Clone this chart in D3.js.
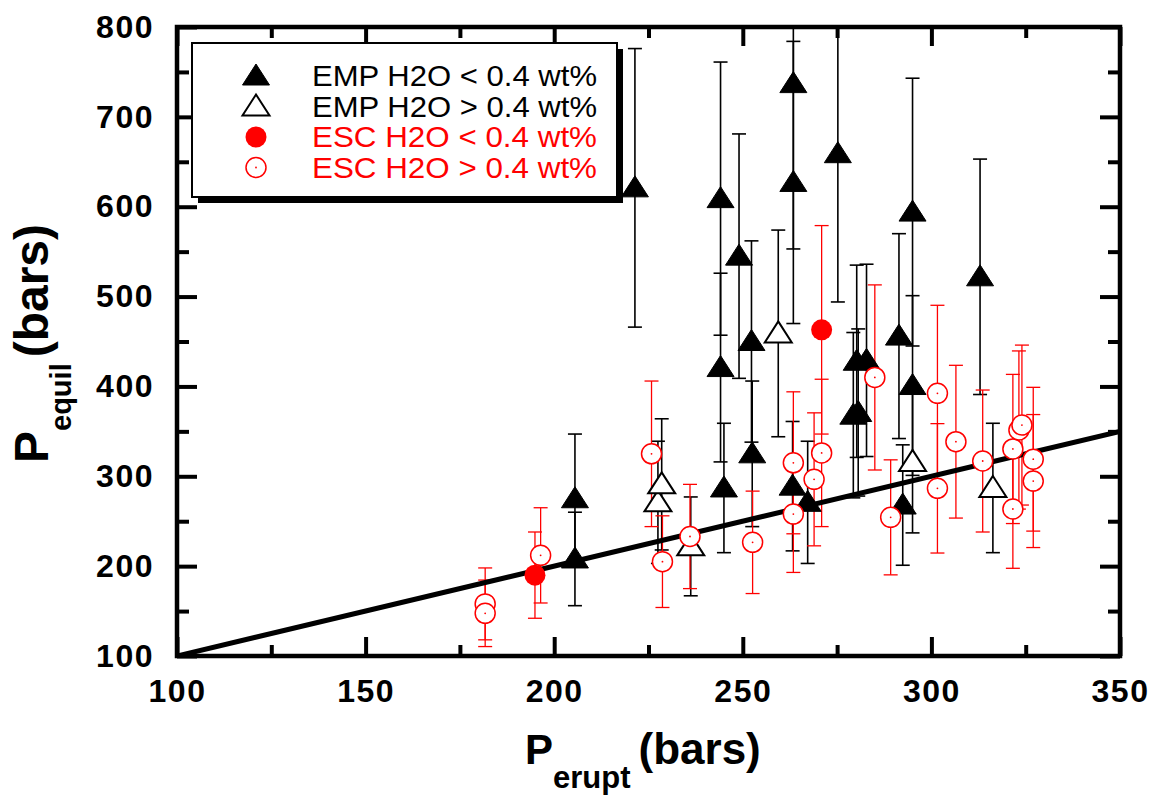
<!DOCTYPE html>
<html>
<head>
<meta charset="utf-8">
<script src="https://cdn.jsdelivr.net/npm/d3@7"></script>
<style>
  html, body { margin: 0; padding: 0; background: #fff; }
  svg { display: block; font-family: "Liberation Sans", Arial, sans-serif; }
</style>
</head>
<body>
<div id="chart"></div>
<script>
// EMP H2O < 0.4 wt% (filled triangles)
const empLowX = [205.5, 205.5, 221.4, 244.1, 244.1, 245.0, 249.0, 252.3, 252.5, 263.4, 263.4, 263.2, 267.2, 275.2, 280.2, 282.8, 279.3, 280.6, 291.4, 292.4, 295.0, 295.0, 312.9];
const empLowY = [275, 208, 621, 609, 421, 287, 545, 450, 325, 737, 627, 289, 271, 659, 428, 429, 368, 371, 456, 268, 594, 401, 522];
const empLowErr = [72, 52, 155, 152, 105, 72, 136, 112, 81, 184, 157, 72, 68, 165, 107, 107, 92, 93, 114, 67, 149, 100, 131];

// EMP H2O > 0.4 wt% (open triangles)
const empHighX = [227.5, 228.5, 236.2, 259.4, 295.0, 316.3];
const empHighY = [271, 291, 222, 459, 316, 287];
const empHighErr = [68, 73, 55, 115, 79, 72];

// ESC H2O < 0.4 wt% (filled red circles)
const escLowX = [194.9, 270.9];
const escLowY = [190, 463];
const escLowErr = [48, 116];

// ESC H2O > 0.4 wt% (open red circles)
const escHighX = [181.7, 181.7, 196.4, 225.8, 228.7, 236.0, 252.6, 263.4, 263.4, 268.9, 270.9, 285.0, 289.2, 301.6, 301.6, 306.5, 313.6, 321.6, 321.6, 323.2, 324.0, 327.0, 327.0];
const escHighY = [158, 147.5, 212, 325, 205, 233, 226.5, 315, 258, 296.6, 326, 410, 254.3, 392.3, 286.6, 338.5, 317, 330.4, 263.6, 351.5, 357, 319, 294.7];
const escHighErr = [40, 37, 53, 81, 51, 58, 57, 79, 65, 74, 82, 103, 64, 98, 72, 85, 79, 83, 66, 88, 89, 80, 74];

// 1:1 reference line
const lineX = [100, 350];
const lineY = [100, 350];

// axis ticks
const xMajor = [100, 150, 200, 250, 300, 350];
const xMinor = [125, 175, 225, 275, 325];
const yMajor = [100, 200, 300, 400, 500, 600, 700, 800];
const yMinor = [150, 250, 350, 450, 550, 650, 750];

const legendLabels = ['EMP H2O < 0.4 wt%', 'EMP H2O > 0.4 wt%', 'ESC H2O < 0.4 wt%', 'ESC H2O > 0.4 wt%'];

const width = 1157;
const height = 797;
const margin = { top: 27, right: 37, bottom: 141, left: 177 };
const innerWidth = width - margin.left - margin.right;
const innerHeight = height - margin.top - margin.bottom;

const red = '#ff0000';
const triPath = 'M0,-12L13.5,9L-13.5,9Z';

const series = [
  { xs: empLowX, ys: empLowY, errs: empLowErr, color: '#000', marker: 'tri', filled: true },
  { xs: empHighX, ys: empHighY, errs: empHighErr, color: '#000', marker: 'tri', filled: false },
  { xs: escHighX, ys: escHighY, errs: escHighErr, color: red, marker: 'circle', filled: false },
  { xs: escLowX, ys: escLowY, errs: escLowErr, color: red, marker: 'circle', filled: true }
];

const svg = d3.select('#chart')
  .append('svg')
  .attr('width', width)
  .attr('height', height);

const g = svg.append('g')
  .attr('transform', `translate(${margin.left}, ${margin.top})`);

const x = d3.scaleLinear().domain([100, 350]).range([0, innerWidth]);
const y = d3.scaleLinear().domain([100, 800]).range([innerHeight, 0]);

g.append('clipPath')
  .attr('id', 'plot-clip')
  .append('rect')
  .attr('width', innerWidth)
  .attr('height', innerHeight);

const plot = g.append('g').attr('clip-path', 'url(#plot-clip)');

function drawMarker(sel, s) {
  if (s.marker === 'tri') {
    sel.append('path')
      .attr('d', triPath)
      .attr('fill', s.filled ? '#000' : '#fff')
      .attr('stroke', '#000')
      .attr('stroke-width', s.filled ? 1 : 2)
      .attr('stroke-linejoin', 'miter');
  } else {
    sel.append('circle')
      .attr('r', s.filled ? 10.5 : 10)
      .attr('fill', s.filled ? s.color : '#fff')
      .attr('stroke', s.color)
      .attr('stroke-width', s.filled ? 0 : 1.5);
    if (!s.filled) {
      sel.append('circle').attr('r', 0.9).attr('fill', s.color);
    }
  }
}

// error bars
series.forEach(s => {
  const pts = s.xs.map((v, i) => ({ x: v, y: s.ys[i], e: s.errs[i] }));
  const bars = plot.append('g')
    .attr('stroke', s.color)
    .attr('stroke-width', s.color === red ? 1.3 : 1.6)
    .selectAll('g')
    .data(pts)
    .join('g');

  bars.append('line')
    .attr('x1', d => x(d.x)).attr('x2', d => x(d.x))
    .attr('y1', d => y(d.y - d.e)).attr('y2', d => y(d.y + d.e));
  bars.append('line')
    .attr('x1', d => x(d.x) - 7).attr('x2', d => x(d.x) + 7)
    .attr('y1', d => y(d.y + d.e)).attr('y2', d => y(d.y + d.e));
  bars.append('line')
    .attr('x1', d => x(d.x) - 7).attr('x2', d => x(d.x) + 7)
    .attr('y1', d => y(d.y - d.e)).attr('y2', d => y(d.y - d.e));
});

// 1:1 line
plot.append('path')
  .datum(lineX.map((v, i) => [v, lineY[i]]))
  .attr('fill', 'none')
  .attr('stroke', '#000')
  .attr('stroke-width', 5)
  .attr('d', d3.line().x(d => x(d[0])).y(d => y(d[1])));

// markers
series.forEach(s => {
  const pts = s.xs.map((v, i) => ({ x: v, y: s.ys[i] }));
  plot.append('g')
    .selectAll('g')
    .data(pts)
    .join('g')
    .attr('transform', d => `translate(${x(d.x)}, ${y(d.y)})`)
    .each(function () { drawMarker(d3.select(this), s); });
});

// axes (ticks point inward on all four sides)
function styleAxis(sel) {
  sel.attr('font-family', null).attr('font-size', null);
  sel.select('.domain').remove();
  sel.selectAll('.tick line').attr('stroke', '#000').attr('stroke-width', 4);
  sel.selectAll('.tick text')
    .attr('fill', '#000')
    .style('font-size', '32px')
    .style('font-weight', 'bold')
    .style('letter-spacing', '1.5px');
}

function ticksOnly(sel) {
  styleAxis(sel);
  sel.selectAll('.tick text').remove();
}

g.append('g')
  .attr('transform', `translate(0, ${innerHeight})`)
  .call(d3.axisBottom(x).tickValues(xMajor).tickSize(-19).tickPadding(23).tickFormat(d3.format('d')))
  .call(styleAxis);

g.append('g')
  .attr('transform', `translate(0, ${innerHeight})`)
  .call(d3.axisBottom(x).tickValues(xMinor).tickSize(-11))
  .call(ticksOnly);

g.append('g')
  .call(d3.axisTop(x).tickValues(xMajor).tickSize(-19))
  .call(ticksOnly);

g.append('g')
  .call(d3.axisTop(x).tickValues(xMinor).tickSize(-11))
  .call(ticksOnly);

g.append('g')
  .call(d3.axisLeft(y).tickValues(yMajor).tickSize(-20).tickPadding(23).tickFormat(d3.format('d')))
  .call(styleAxis);

g.append('g')
  .call(d3.axisLeft(y).tickValues(yMinor).tickSize(-12))
  .call(ticksOnly);

g.append('g')
  .attr('transform', `translate(${innerWidth}, 0)`)
  .call(d3.axisRight(y).tickValues(yMajor).tickSize(-20))
  .call(ticksOnly);

g.append('g')
  .attr('transform', `translate(${innerWidth}, 0)`)
  .call(d3.axisRight(y).tickValues(yMinor).tickSize(-12))
  .call(ticksOnly);

// frame
g.append('rect')
  .attr('width', innerWidth)
  .attr('height', innerHeight)
  .attr('fill', 'none')
  .attr('stroke', '#000')
  .attr('stroke-width', 4.5);

// legend
const legend = svg.append('g').attr('transform', 'translate(192, 43)');
legend.append('rect')
  .attr('x', 6).attr('y', 6)
  .attr('width', 425).attr('height', 154)
  .attr('fill', '#000');
legend.append('rect')
  .attr('width', 425).attr('height', 154)
  .attr('fill', '#fff')
  .attr('stroke', '#000')
  .attr('stroke-width', 2);

const legendSeries = [series[0], series[1], series[3], series[2]];
legendLabels.forEach((label, i) => {
  const row = legend.append('g').attr('transform', `translate(0, ${33 + i * 30.5})`);
  const s = legendSeries[i];
  const m = row.append('g').attr('transform', 'translate(64, 0)');
  drawMarker(m, s);
  row.append('text')
    .attr('x', 120)
    .attr('y', 10)
    .attr('fill', s.color === red ? red : '#000')
    .attr('textLength', 285)
    .attr('lengthAdjust', 'spacingAndGlyphs')
    .style('font-size', '29px')
    .text(label);
});

// axis titles
const xTitle = svg.append('text')
  .attr('x', 525)
  .attr('y', 764)
  .attr('fill', '#000')
  .style('font-weight', 'bold')
  .style('font-size', '42px');
xTitle.append('tspan').text('P');
xTitle.append('tspan').attr('dy', 24).style('font-size', '31px').text('erupt');
xTitle.append('tspan').attr('dy', -24).attr('dx', 8).style('font-size', '44px').text('(bars)');

const yTitle = svg.append('text')
  .attr('transform', 'translate(48, 463) rotate(-90)')
  .attr('fill', '#000')
  .style('font-weight', 'bold')
  .style('font-size', '48px');
yTitle.append('tspan').text('P');
yTitle.append('tspan').attr('dy', 23).style('font-size', '29px').text('equil');
yTitle.append('tspan').attr('dy', -23).attr('dx', 6).text('(bars)');
</script>
</body>
</html>
